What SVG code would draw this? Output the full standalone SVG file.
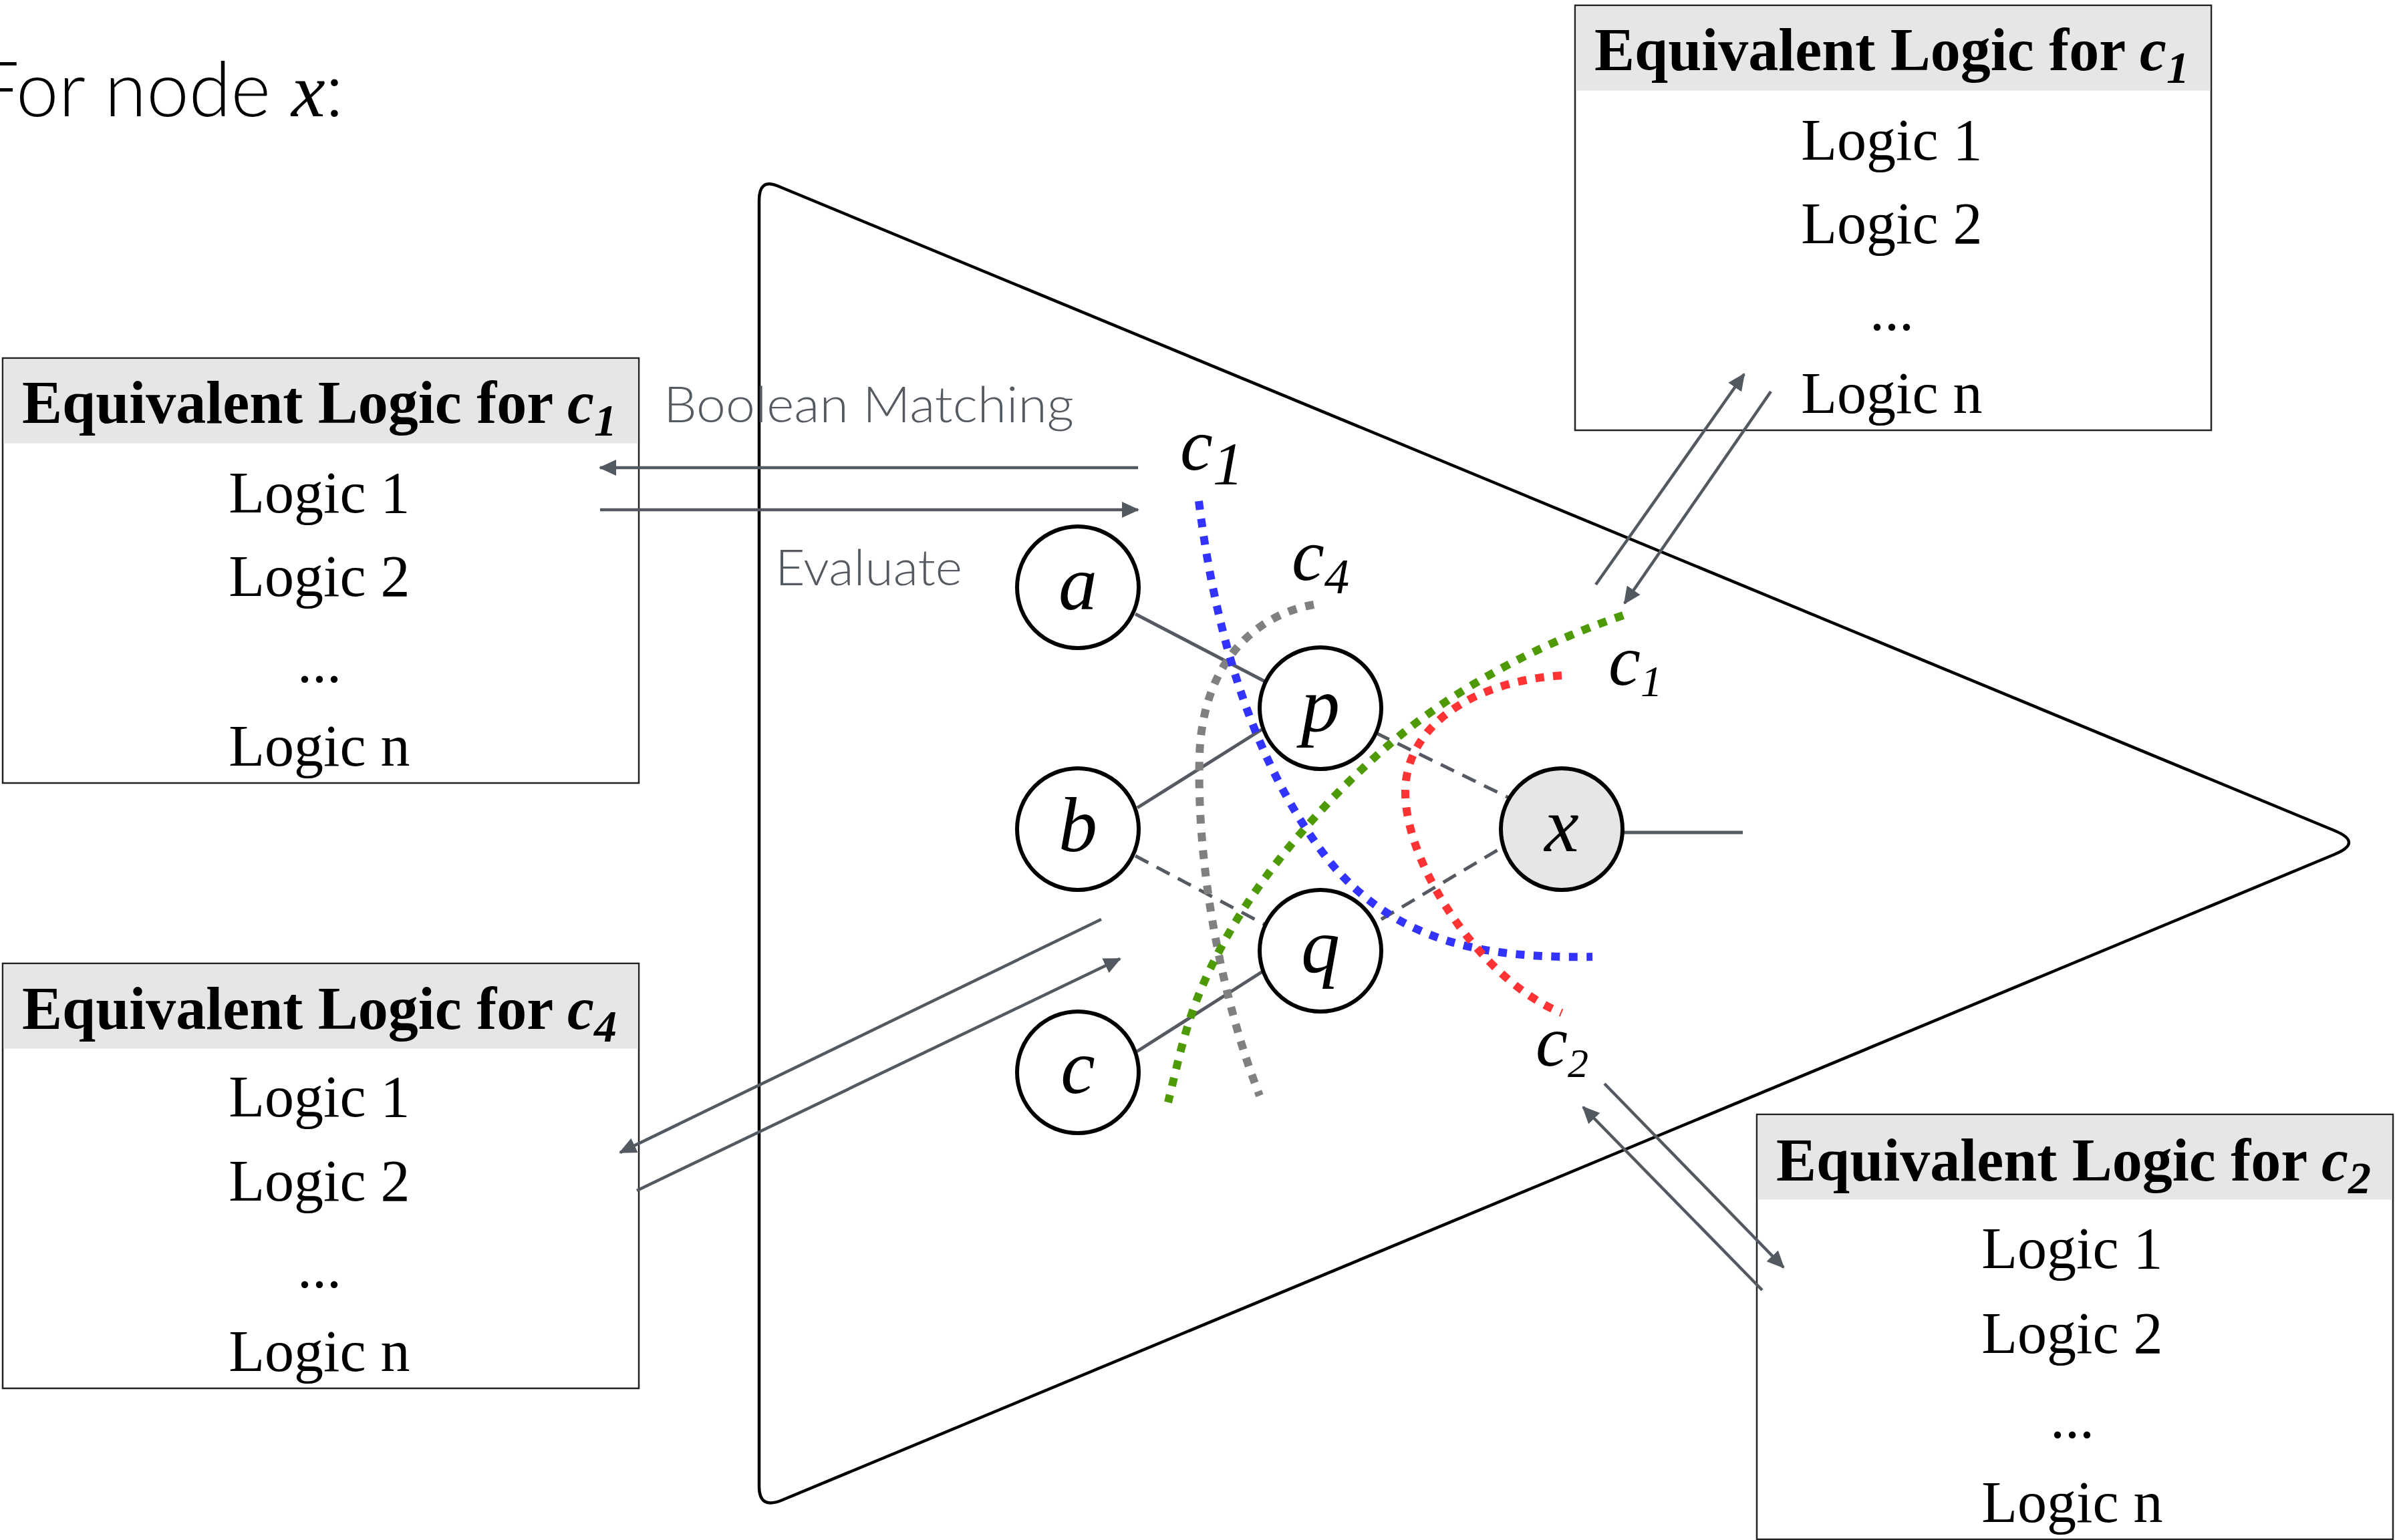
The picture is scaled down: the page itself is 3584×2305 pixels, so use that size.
<svg xmlns="http://www.w3.org/2000/svg" width="3584" height="2305" viewBox="0 0 3584 2305">
  <style>
    .tri { fill: none; stroke: #000; stroke-width: 4.5; }
    .node { fill: #fff; stroke: #000; stroke-width: 6; }
    .nodex { fill: #e6e6e6; stroke: #000; stroke-width: 6; }
    .nlabel { font-family: "Liberation Serif", "Times New Roman", serif; font-style: italic; font-size: 116px; fill: #000; text-anchor: middle; }
    .edge { stroke: #555a62; stroke-width: 5; fill: none; }
    .dedge { stroke: #555a62; stroke-width: 5; fill: none; stroke-dasharray: 22 14; }
    .arrow { stroke: #535961; stroke-width: 4.5; fill: none; marker-end: url(#ah); }
    .cut { fill: none; stroke-width: 12; stroke-dasharray: 13 13.5; stroke-linecap: butt; }
    .box { fill: #fff; stroke: #222; stroke-width: 2.5; }
    .hdr { fill: #e6e6e6; }
    .htxt { font-family: "Liberation Serif", "Times New Roman", serif; font-weight: bold; font-size: 90px; fill: #000; text-anchor: middle; }
    .btxt { font-family: "Liberation Serif", "Times New Roman", serif; font-size: 88px; fill: #000; text-anchor: middle; }
    .ctxt { font-family: "Liberation Serif", "Times New Roman", serif; font-style: italic; fill: #000; }
    .side { font-family: Lato, "Open Sans", "Liberation Sans", sans-serif; font-weight: 300; font-size: 74px; fill: #555a60; }
    .title { font-family: Lato, "Open Sans", "Liberation Sans", sans-serif; font-weight: 300; font-size: 114px; fill: #000; }
  </style>
  <defs>
    <marker id="ah" viewBox="0 0 26 24" refX="24" refY="12" markerWidth="26" markerHeight="24" markerUnits="userSpaceOnUse" orient="auto">
      <path d="M0,0 L26,12 L0,24 Z" fill="#535961"/>
    </marker>
  </defs>

  <rect width="3584" height="2305" fill="#fff"/>

  <text class="title" x="514" y="174" text-anchor="end">For node <tspan font-family="'Liberation Serif', 'Times New Roman', serif" font-style="italic" font-weight="normal">x</tspan>:</text>

  <!-- cone / triangle -->
  <path id="cone" class="tri" d="M1163,278 L3493,1243 Q3537,1261 3493,1279 L1171,2245 Q1136,2260 1136,2225 L1136,300 Q1136,267 1163,278 Z"/>

  <text class="side" x="993" y="632" textLength="614" lengthAdjust="spacingAndGlyphs">Boolean Matching</text>
  <text class="side" x="1160" y="876" textLength="280" lengthAdjust="spacingAndGlyphs">Evaluate</text>

  <!-- boxes -->
  <g id="box-c1-left">
    <rect class="box" x="4" y="536" width="952" height="636"/>
    <rect class="hdr" x="5.5" y="537.5" width="949" height="126"/>
    <text class="htxt" x="478" y="633">Equivalent Logic for <tspan font-style="italic">c</tspan><tspan font-style="italic" font-size="68" dy="19">1</tspan></text>
    <text class="btxt" x="478" y="767">Logic 1</text>
    <text class="btxt" x="478" y="892">Logic 2</text>
    <text class="btxt" x="478" y="1021">...</text>
    <text class="btxt" x="478" y="1146">Logic n</text>
  </g>
  <g id="box-c1-top">
    <rect class="box" x="2357" y="8" width="952" height="636"/>
    <rect class="hdr" x="2358.5" y="9.5" width="949" height="126"/>
    <text class="htxt" x="2831" y="105">Equivalent Logic for <tspan font-style="italic">c</tspan><tspan font-style="italic" font-size="68" dy="19">1</tspan></text>
    <text class="btxt" x="2831" y="239">Logic 1</text>
    <text class="btxt" x="2831" y="364">Logic 2</text>
    <text class="btxt" x="2831" y="494">...</text>
    <text class="btxt" x="2831" y="618">Logic n</text>
  </g>
  <g id="box-c4">
    <rect class="box" x="4" y="1442" width="952" height="636"/>
    <rect class="hdr" x="5.5" y="1443.5" width="949" height="126"/>
    <text class="htxt" x="478" y="1540">Equivalent Logic for <tspan font-style="italic">c</tspan><tspan font-style="italic" font-size="68" dy="19">4</tspan></text>
    <text class="btxt" x="478" y="1671">Logic 1</text>
    <text class="btxt" x="478" y="1797">Logic 2</text>
    <text class="btxt" x="478" y="1927">...</text>
    <text class="btxt" x="478" y="2052">Logic n</text>
  </g>
  <g id="box-c2">
    <rect class="box" x="2629" y="1668" width="952" height="636"/>
    <rect class="hdr" x="2630.5" y="1669.5" width="949" height="126"/>
    <text class="htxt" x="3103" y="1767">Equivalent Logic for <tspan font-style="italic">c</tspan><tspan font-style="italic" font-size="68" dy="19">2</tspan></text>
    <text class="btxt" x="3101" y="1898">Logic 1</text>
    <text class="btxt" x="3101" y="2025">Logic 2</text>
    <text class="btxt" x="3101" y="2152">...</text>
    <text class="btxt" x="3101" y="2278">Logic n</text>
  </g>

  <!-- connectors -->
  <g id="connectors">
    <line class="edge" x1="1699" y1="919" x2="1893" y2="1020"/>
    <line class="edge" x1="1702" y1="1209" x2="1888" y2="1092"/>
    <line class="dedge" x1="1699" y1="1281" x2="1893" y2="1384"/>
    <line class="edge" x1="1701" y1="1574" x2="1891" y2="1453"/>
    <line class="dedge" x1="2059" y1="1097" x2="2260" y2="1195"/>
    <line class="dedge" x1="2067" y1="1376" x2="2250" y2="1267"/>
    <line class="edge" x1="2428" y1="1246" x2="2608" y2="1246"/>

    <line class="arrow" x1="1703" y1="700" x2="898" y2="700"/>
    <line class="arrow" x1="898" y1="763" x2="1703" y2="763"/>
    <line class="arrow" x1="2388" y1="875" x2="2610" y2="560"/>
    <line class="arrow" x1="2650" y1="586" x2="2431" y2="903"/>
    <line class="arrow" x1="1648" y1="1376" x2="928" y2="1725"/>
    <line class="arrow" x1="953" y1="1782" x2="1676" y2="1435"/>
    <line class="arrow" x1="2401" y1="1622" x2="2669" y2="1897"/>
    <line class="arrow" x1="2637" y1="1931" x2="2369" y2="1657"/>
  </g>

  <!-- cuts -->
  <g id="cuts">
    <path id="cut-c4" class="cut" stroke="#808080" d="M1966,905 C1880,920 1800,990 1795,1130 C1790,1300 1830,1500 1885,1640"/>
    <path id="cut-c1-blue" class="cut" stroke="#3333ff" d="M1794,750 C1820,960 1880,1150 1990,1290 C2090,1410 2220,1435 2383,1432"/>
    <path id="cut-c1-green" class="cut" stroke="#4e9a06" d="M2429,921 C2300,965 2180,1030 2090,1105 S1900,1290 1840,1395 S1770,1560 1748,1650"/>
    <path id="cut-c2" class="cut" stroke="#ff3333" d="M2337,1011 C2200,1020 2100,1090 2103,1190 C2106,1300 2220,1470 2337,1516"/>
  </g>

  <!-- cut labels -->
  <text class="ctxt" x="1766" y="703" font-size="110">c<tspan font-size="92" dy="22">1</tspan></text>
  <text class="ctxt" x="1933" y="868" font-size="110">c<tspan font-size="75" dy="20">4</tspan></text>
  <text class="ctxt" x="2407" y="1025" font-size="108">c<tspan font-size="65" dy="17">1</tspan></text>
  <text class="ctxt" x="2298" y="1595" font-size="108">c<tspan font-size="62" dy="17">2</tspan></text>

  <!-- nodes -->
  <g id="node-a"><circle class="node" cx="1613" cy="879" r="91"/><text class="nlabel" x="1613" y="912">a</text></g>
  <g id="node-b"><circle class="node" cx="1613" cy="1241" r="91"/><text class="nlabel" x="1613" y="1274">b</text></g>
  <g id="node-c"><circle class="node" cx="1613" cy="1605" r="91"/><text class="nlabel" x="1613" y="1636">c</text></g>
  <g id="node-p"><circle class="node" cx="1976" cy="1060" r="91"/><text class="nlabel" x="1976" y="1094">p</text></g>
  <g id="node-q"><circle class="node" cx="1976" cy="1423" r="91"/><text class="nlabel" x="1976" y="1455">q</text></g>
  <g id="node-x"><circle class="nodex" cx="2337" cy="1241" r="91"/><text class="nlabel" x="2337" y="1274">x</text></g>
</svg>
